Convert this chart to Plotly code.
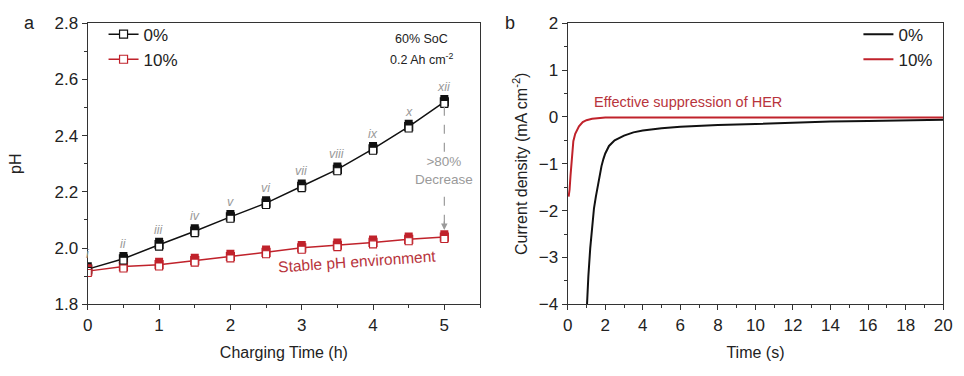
import plotly.graph_objects as go

# ---------------- data ----------------
# panel a: pH vs charging time
time_h = [0, 0.5, 1, 1.5, 2, 2.5, 3, 3.5, 4, 4.5, 5]
ph_0 = [1.925, 1.962, 2.012, 2.060, 2.111, 2.160, 2.220, 2.280, 2.353, 2.432, 2.520]
ph_10 = [1.918, 1.934, 1.941, 1.955, 1.970, 1.985, 2.001, 2.010, 2.020, 2.031, 2.039]
roman = ["i", "ii", "iii", "iv", "v", "vi", "vii", "viii", "ix", "x", "xii"]

# panel b: current density vs time
t0 = [0.97, 1.02, 1.1, 1.2, 1.3, 1.4, 1.5, 1.6, 1.7, 1.8, 1.9, 2.0, 2.2, 2.5, 3.0,
      3.5, 4.0, 5.0, 6.0, 8.0, 10.0, 12.0, 14.0, 16.0, 18.0, 20.0]
j0 = [-4.5, -4.0, -3.4, -2.8, -2.3, -1.95, -1.7, -1.48, -1.25, -1.05, -0.9, -0.78,
      -0.62, -0.5, -0.4, -0.33, -0.29, -0.24, -0.21, -0.17, -0.15, -0.12, -0.10,
      -0.085, -0.07, -0.06]
t10 = [0.05, 0.1, 0.15, 0.2, 0.25, 0.3, 0.4, 0.5, 0.6, 0.8, 1.0, 1.3, 1.6, 2.0,
       3.0, 5.0, 10.0, 15.0, 20.0]
j10 = [-1.70, -1.55, -1.25, -0.95, -0.70, -0.52, -0.36, -0.27, -0.20, -0.11,
       -0.07, -0.04, -0.025, -0.015, -0.012, -0.01, -0.01, -0.01, -0.01]

BLACK = "#111111"
RED = "#c0222b"
RED_TXT = "#b8343c"
GRAY = "#9a9a9a"
FONT = "Arial, Liberation Sans, sans-serif"

fig = go.Figure()

# ---- panel a ----
fig.add_trace(go.Scatter(x=time_h, y=ph_0, mode="lines+markers", name="0%",
                         line=dict(color=BLACK, width=1.5),
                         marker=dict(symbol="square", size=8, color="white",
                                     line=dict(color=BLACK, width=1.2)),
                         xaxis="x", yaxis="y", legend="legend"))
fig.add_trace(go.Scatter(x=time_h, y=ph_10, mode="lines+markers", name="10%",
                         line=dict(color=RED, width=1.5),
                         marker=dict(symbol="square", size=8, color="white",
                                     line=dict(color=RED, width=1.2)),
                         xaxis="x", yaxis="y", legend="legend"))
# half-filled square markers (upper filled part on shifted overlay axis)
for ys, col in ((ph_0, BLACK), (ph_10, RED)):
    fig.add_trace(go.Scatter(x=time_h, y=ys, mode="markers", showlegend=False,
                             marker=dict(symbol="square", size=8, color=col,
                                         line=dict(color=col, width=0)),
                             xaxis="x", yaxis="y3", hoverinfo="skip"))
for ys, col in ((ph_0, BLACK), (ph_10, RED)):
    fig.add_trace(go.Scatter(x=time_h, y=ys, mode="markers", showlegend=False,
                             marker=dict(symbol="square", size=7, color="white",
                                         line=dict(color=col, width=1.1)),
                             xaxis="x", yaxis="y4", hoverinfo="skip"))

# ---- panel b ----
fig.add_trace(go.Scatter(x=t0, y=j0, mode="lines", name="0%",
                         line=dict(color=BLACK, width=2),
                         xaxis="x2", yaxis="y2", legend="legend2"))
fig.add_trace(go.Scatter(x=t10, y=j10, mode="lines", name="10%",
                         line=dict(color=RED, width=2),
                         xaxis="x2", yaxis="y2", legend="legend2"))

dom_y = [1 - 311 / 376, 1 - 15 / 376]
px_a = (2.8 - 1.8) / 296.0

axis_common = dict(showline=True, linecolor="#333333", linewidth=1.3, mirror=True,
                   ticks="outside", ticklen=5, tickwidth=1.2, tickcolor="#333333",
                   showgrid=False, zeroline=False,
                   tickfont=dict(family=FONT, size=17, color="#222222"))

fig.update_layout(
    width=964, height=376, margin=dict(l=0, r=0, t=0, b=0),
    paper_bgcolor="white", plot_bgcolor="white",
    font=dict(family=FONT, color="#222222"),
    xaxis=dict(domain=[84 / 964, 482 / 964], range=[0, 5.5], dtick=1,
               minor=dict(ticks="outside", dtick=0.5, ticklen=3, tickcolor="#333333"),
               title=dict(text="Charging Time (h)", standoff=12,
                          font=dict(family=FONT, size=16)),
               anchor="y", **axis_common),
    yaxis=dict(domain=dom_y, range=[1.8, 2.8], dtick=0.2, tickformat=".1f",
               minor=dict(ticks="outside", dtick=0.1, ticklen=3, tickcolor="#333333"),
               title=dict(text="pH", standoff=28, font=dict(family=FONT, size=16)),
               anchor="x", **axis_common),
    yaxis3=dict(domain=dom_y, overlaying="y", range=[1.8 - 3.0 * px_a, 2.8 - 3.0 * px_a],
                visible=False, anchor="x"),
    yaxis4=dict(domain=dom_y, overlaying="y", range=[1.8 + 2.0 * px_a, 2.8 + 2.0 * px_a],
                visible=False, anchor="x"),
    xaxis2=dict(domain=[571 / 964, 952 / 964], range=[0, 20], dtick=2,
                minor=dict(ticks="outside", dtick=1, ticklen=3, tickcolor="#333333"),
                title=dict(text="Time (s)", standoff=12, font=dict(family=FONT, size=16)),
                anchor="y2", **axis_common),
    yaxis2=dict(domain=dom_y, range=[-4, 2], dtick=1,
                minor=dict(ticks="outside", dtick=0.5, ticklen=3, tickcolor="#333333"),
                title=dict(text="Current density (mA cm<sup>-2</sup>)", standoff=7,
                           font=dict(family=FONT, size=16)),
                anchor="x2", **axis_common),
    legend=dict(x=100 / 964, y=1 - 8 / 376, xanchor="left", yanchor="top",
                bgcolor="rgba(0,0,0,0)", font=dict(family=FONT, size=17),
                itemwidth=30, tracegroupgap=0),
    legend2=dict(x=866 / 964, y=1 - 8 / 376, xanchor="left", yanchor="top",
                 bgcolor="rgba(0,0,0,0)", font=dict(family=FONT, size=17),
                 itemwidth=30, tracegroupgap=0),
)

# roman numeral labels above the 0% points
for xv, yv, lab in zip(time_h, ph_0, roman):
    fig.add_annotation(text="<i>" + lab + "</i>", x=xv, y=yv, xref="x", yref="y",
                       yshift=15, showarrow=False,
                       font=dict(family=FONT, size=12.5, color=GRAY))

# panel labels
fig.add_annotation(text="a", x=25 / 964, y=1 - 15 / 376, xref="paper", yref="paper",
                   xanchor="center", yanchor="middle", showarrow=False,
                   font=dict(family=FONT, size=18, color="#222222"))
fig.add_annotation(text="b", x=512 / 964, y=1 - 15 / 376, xref="paper", yref="paper",
                   xanchor="center", yanchor="middle", showarrow=False,
                   font=dict(family=FONT, size=18, color="#222222"))

# panel a annotations
fig.add_annotation(text="60% SoC", x=4.68, y=2.743, xref="x", yref="y", showarrow=False,
                   font=dict(family=FONT, size=12.5, color="#222222"))
fig.add_annotation(text="0.2 Ah cm<sup>-2</sup>", x=4.68, y=2.672, xref="x", yref="y",
                   showarrow=False, font=dict(family=FONT, size=12.5, color="#222222"))
fig.add_shape(type="line", x0=5, x1=5, y0=2.503, y1=2.07, xref="x", yref="y",
              line=dict(color=GRAY, width=1.2, dash="dash"))
fig.add_annotation(text="", x=5, y=2.064, ax=0, ay=-10, xref="x", yref="y",
                   showarrow=True, arrowhead=2, arrowsize=1, arrowwidth=1.3,
                   arrowcolor=GRAY)
fig.add_annotation(text="&gt;80%<br>Decrease", x=5.0, y=2.276, xref="x", yref="y",
                   showarrow=False, bgcolor="white",
                   font=dict(family=FONT, size=13.5, color=GRAY))
fig.add_annotation(text="Stable pH environment", x=3.77, y=1.952, xref="x", yref="y",
                   showarrow=False, textangle=-4,
                   font=dict(family=FONT, size=15.5, color=RED_TXT))

# panel b annotation
fig.add_annotation(text="Effective suppression of HER", x=1.3, y=0.32, xref="x2", yref="y2",
                   xanchor="left", showarrow=False,
                   font=dict(family=FONT, size=14.5, color=RED_TXT))

fig.write_html("out.html")
